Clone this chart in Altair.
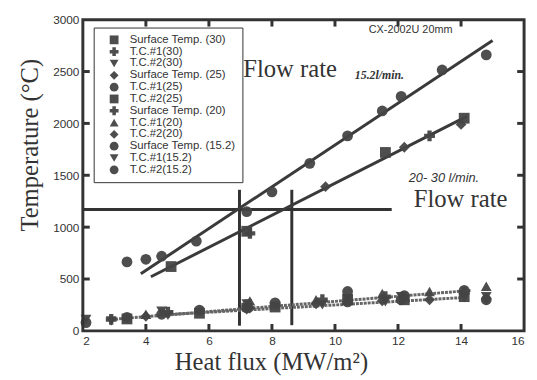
import altair as alt
import pandas as pd

# ---------------- data ----------------
series_names = ["Surface Temp. (30)", "T.C.#1(30)", "T.C.#2(30)",
                "Surface Temp. (25)", "T.C.#1(25)", "T.C.#2(25)",
                "Surface Temp. (20)", "T.C.#1(20)", "T.C.#2(20)",
                "Surface Temp. (15.2)", "T.C.#1(15.2)", "T.C.#2(15.2)"]
series_shapes = ["square", "cross", "triangle-down", "diamond", "circle", "square",
                 "cross", "triangle-up", "diamond", "circle", "triangle-down", "circle"]

s30_x = [4.8, 7.2, 11.6, 14.1]
s30_y = [620, 960, 1720, 2050]
tc1_30_x = [2.9, 4.7, 7.2, 9.6, 11.6, 14.1]
tc1_30_y = [110, 180, 250, 300, 330, 370]
tc2_30_x = [2.9, 4.7, 7.2, 9.6, 11.6, 14.1]
tc2_30_y = [95, 150, 200, 250, 280, 320]

s25_x = [9.7, 12.2, 14.0]
s25_y = [1390, 1770, 1990]
tc1_25_x = [3.4, 5.7, 8.1, 10.4, 12.2, 14.1]
tc1_25_y = [130, 200, 270, 380, 340, 390]
tc2_25_x = [3.4, 5.7, 8.1, 10.4, 12.2, 14.1]
tc2_25_y = [115, 170, 230, 300, 300, 330]

s20_x = [7.3, 13.0]
s20_y = [940, 1880]
tc1_20_x = [4.0, 7.3, 9.4, 11.5, 13.0, 14.8]
tc1_20_y = [160, 290, 300, 360, 380, 430]
tc2_20_x = [4.0, 7.3, 9.4, 11.5, 13.0, 14.8]
tc2_20_y = [140, 220, 260, 290, 300, 310]

s15_x = [3.4, 4.0, 4.5, 5.6, 7.2, 8.0, 9.2, 10.4, 11.5, 12.1, 13.4, 14.8]
s15_y = [665, 690, 720, 865, 1150, 1340, 1615, 1880, 2120, 2260, 2515, 2660]
tc1_15_x = [2.1, 4.5, 7.2, 10.4, 12.1, 14.8]
tc1_15_y = [110, 190, 260, 310, 330, 330]
tc2_15_x = [2.1, 4.5, 7.2, 10.4, 12.1, 14.8]
tc2_15_y = [80, 160, 220, 280, 300, 300]

series_x = [s30_x, tc1_30_x, tc2_30_x, s25_x, tc1_25_x, tc2_25_x,
            s20_x, tc1_20_x, tc2_20_x, s15_x, tc1_15_x, tc2_15_x]
series_y = [s30_y, tc1_30_y, tc2_30_y, s25_y, tc1_25_y, tc2_25_y,
            s20_y, tc1_20_y, tc2_20_y, s15_y, tc1_15_y, tc2_15_y]

# fitted lines (end points)
fit_ids = ["upper", "upper", "lower", "lower"]
fit_x = [3.84, 15.0, 4.16, 14.2]
fit_y = [551, 2800, 522, 2070]
tcfit_ids = ["a", "a", "b", "b"]
tcfit_x = [2.9, 14.3, 4.3, 14.0]
tcfit_y = [110, 390, 150, 320]

# guide lines
h_x1, h_x2, h_y = [2.0], [11.8], [1170]
v_x = [6.97, 8.63]
v_y1 = [50, 55]
v_y2 = [1360, 1360]

x_ticks = [4, 6, 8, 10, 12, 14]
y_ticks = [500, 1000, 1500, 2000, 2500]
x_labels = [2, 4, 6, 8, 10, 12, 14, 16]
y_labels = [0, 500, 1000, 1500, 2000, 2500, 3000]

W, H = 448, 316
xs = alt.Scale(domain=[2, 16], nice=False, zero=False)
ys = alt.Scale(domain=[0, 3000], nice=False, zero=False)

rows = []
for n, xx, yy in zip(series_names, series_x, series_y):
    for a, b in zip(xx, yy):
        rows.append({"series": n, "x": a, "y": b})
pts_df = pd.DataFrame(rows)

fit_df = pd.DataFrame({"id": fit_ids, "x": fit_x, "y": fit_y})
tcfit_df = pd.DataFrame({"id": tcfit_ids, "x": tcfit_x, "y": tcfit_y})
h_df = pd.DataFrame({"x": h_x1, "x2": h_x2, "y": h_y})
v_df = pd.DataFrame({"x": v_x, "y": v_y1, "y2": v_y2})
xt_df = pd.DataFrame({"x": x_ticks})
yt_df = pd.DataFrame({"y": y_ticks})

LABEL_FONT = "Liberation Sans Narrow, Liberation Sans"
SERIF = "Liberation Serif"
INK = "#333333"

x_axis = alt.Axis(values=x_labels, format="d", ticks=False, domain=False, grid=False,
                  labelFont=LABEL_FONT, labelFontSize=12, labelColor=INK, labelPadding=5,
                  title="Heat flux (MW/m²)", titleFont=SERIF, titleFontSize=25,
                  titleFontWeight="normal", titleColor=INK, titleX=191, titleY=39,
                  titleBaseline="alphabetic", titleAlign="center")
y_axis = alt.Axis(values=y_labels, format="d", ticks=False, domain=False,
                  grid=False, labelFont=LABEL_FONT, labelFontSize=12, labelColor=INK,
                  labelPadding=4, title="Temperature (°C)", titleFont=SERIF, titleFontSize=25,
                  titleFontWeight="normal", titleColor=INK, titleX=-54, titleY=127,
                  titleBaseline="middle", titleAlign="center", titleAngle=-90)


def X(field="x"):
    return alt.X(f"{field}:Q", scale=xs, axis=x_axis)


def Y(field="y"):
    return alt.Y(f"{field}:Q", scale=ys, axis=y_axis)


points = alt.Chart(pts_df).mark_point(filled=True, size=120, color="#444444", opacity=0.95).encode(
    x=X(), y=Y(),
    shape=alt.Shape("series:N", sort=series_names,
                    scale=alt.Scale(domain=series_names, range=series_shapes),
                    legend=alt.Legend(title=None, orient="none", legendX=11, legendY=8,
                                      fillColor="white", strokeColor=INK, padding=7,
                                      labelFont=LABEL_FONT, labelFontSize=11.5, labelColor=INK,
                                      symbolSize=80, symbolFillColor="#444444",
                                      symbolStrokeColor="#444444", rowPadding=0,
                                      clipHeight=11, symbolOffset=8, labelOffset=10,
                                      labelLimit=200)),
)

fits = alt.Chart(fit_df).mark_line(color="#3a3a3a", strokeWidth=3).encode(
    x=X(), y=Y(), detail="id:N")
tcfits = alt.Chart(tcfit_df).mark_line(color="#666666", strokeWidth=3, strokeDash=[3, 1]).encode(
    x=X(), y=Y(), detail="id:N")

hline = alt.Chart(h_df).mark_rule(color=INK, strokeWidth=3).encode(
    x=X(), x2="x2:Q", y=Y())
vlines = alt.Chart(v_df).mark_rule(color=INK, strokeWidth=3).encode(
    x=X(), y=Y(), y2="y2:Q")

tick_bottom = alt.Chart(xt_df).mark_rule(color=INK, strokeWidth=3).encode(
    x=X(), y=alt.value(H), y2=alt.value(H - 7))
tick_top = alt.Chart(xt_df).mark_rule(color=INK, strokeWidth=3).encode(
    x=X(), y=alt.value(0), y2=alt.value(7))
tick_left = alt.Chart(yt_df).mark_rule(color=INK, strokeWidth=3).encode(
    y=Y(), x=alt.value(0), x2=alt.value(7))
tick_right = alt.Chart(yt_df).mark_rule(color=INK, strokeWidth=3).encode(
    y=Y(), x=alt.value(W), x2=alt.value(W - 7))

frame = alt.Chart(pd.DataFrame({"k": [0]})).mark_rect(
    fill=None, fillOpacity=0, stroke=INK, strokeWidth=3).encode(
    x=alt.value(0), x2=alt.value(W), y=alt.value(0), y2=alt.value(H))

# annotations (anchor positions in data units)
ann_text = ["CX-2002U 20mm", "Flow rate", "15.2l/min.", "20- 30 l/min.", "Flow rate"]
ann_x = [12.4, 7.09, 10.63, 12.34, 12.5]
ann_y = [2896, 2449, 2430, 1434, 1196]


def ann(i, **kw):
    d = pd.DataFrame({"x": [ann_x[i]], "y": [ann_y[i]], "t": [ann_text[i]]})
    return alt.Chart(d).mark_text(color=INK, **kw).encode(x=X(), y=Y(), text="t:N")


a0 = ann(0, font=LABEL_FONT, fontSize=11, align="center", baseline="middle")
a1 = ann(1, font=SERIF, fontSize=25, align="left", baseline="alphabetic")
a2 = ann(2, font=SERIF, fontSize=12, fontStyle="italic", fontWeight="bold", align="left",
         baseline="alphabetic")
a3 = ann(3, font="Liberation Sans", fontSize=13, fontStyle="italic", align="left",
         baseline="alphabetic")
a4 = ann(4, font=SERIF, fontSize=25, align="left", baseline="alphabetic")

chart = alt.layer(
    hline, vlines, tcfits, fits, points,
    tick_bottom, tick_top, tick_left, tick_right, frame,
    a0, a1, a2, a3, a4,
).properties(
    width=W, height=H,
    padding={"left": 76, "top": 9, "right": 5, "bottom": 45},
    autosize=alt.AutoSizeParams(type="none"),
).configure_view(
    stroke=None
).configure(background="white")

chart.save("out.html", embed_options={"renderer": "svg", "actions": False})
